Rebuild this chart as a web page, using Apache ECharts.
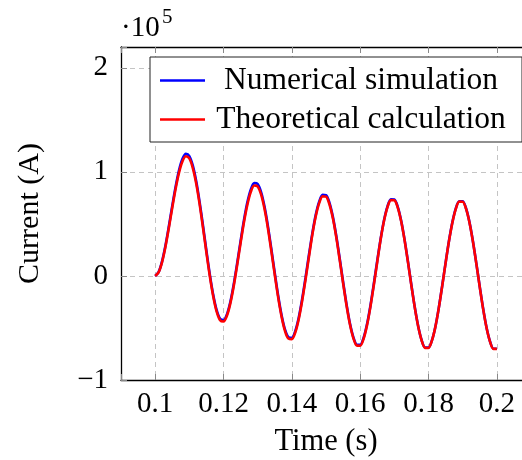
<!DOCTYPE html>
<html>
<head>
<meta charset="utf-8">
<script src="https://cdn.jsdelivr.net/npm/echarts@6/dist/echarts.min.js"></script>
<style>html,body{margin:0;padding:0;background:#fff}#c{width:522px;height:460px}</style>
</head>
<body>
<div id="c"></div>
<script>
// Time samples (s), 1 ms apart from 0.1 s to 0.2 s
const times = Array.from({length: 101}, (_, i) => +(0.1 + i * 0.001).toFixed(3));

// Current in units of 1e5 A
const numericalSimulation = [
  0.000, 0.037, 0.138, 0.290, 0.475, 0.673, 0.860, 1.017, 1.125, 1.173,
  1.152, 1.062, 0.912, 0.712, 0.482, 0.242, 0.013, -0.183, -0.329, -0.412,
  -0.425, -0.369, -0.250, -0.080, 0.122, 0.335, 0.538, 0.709, 0.831, 0.892,
  0.883, 0.806, 0.667, 0.479, 0.259, 0.029, -0.190, -0.377, -0.515, -0.589,
  -0.594, -0.530, -0.404, -0.227, -0.019, 0.201, 0.409, 0.587, 0.714, 0.780,
  0.777, 0.704, 0.570, 0.386, 0.170, -0.056, -0.271, -0.455, -0.588, -0.660,
  -0.662, -0.595, -0.465, -0.286, -0.075, 0.147, 0.358, 0.538, 0.668, 0.736,
  0.734, 0.664, 0.531, 0.349, 0.135, -0.090, -0.303, -0.485, -0.618, -0.688,
  -0.689, -0.620, -0.490, -0.309, -0.097, 0.126, 0.338, 0.518, 0.649, 0.718,
  0.717, 0.648, 0.516, 0.334, 0.121, -0.103, -0.316, -0.498, -0.629, -0.699,
  -0.699
];
const theoreticalCalculation = [
  0.000, 0.034, 0.131, 0.279, 0.461, 0.655, 0.840, 0.995, 1.102, 1.150,
  1.129, 1.039, 0.890, 0.692, 0.463, 0.225, -0.003, -0.197, -0.343, -0.425,
  -0.438, -0.383, -0.264, -0.096, 0.105, 0.316, 0.518, 0.687, 0.808, 0.869,
  0.860, 0.783, 0.645, 0.459, 0.240, 0.012, -0.206, -0.391, -0.529, -0.602,
  -0.607, -0.544, -0.418, -0.243, -0.036, 0.182, 0.396, 0.573, 0.699, 0.765,
  0.762, 0.689, 0.556, 0.373, 0.157, -0.068, -0.282, -0.465, -0.597, -0.669,
  -0.671, -0.604, -0.475, -0.297, -0.087, 0.134, 0.352, 0.532, 0.661, 0.729,
  0.727, 0.657, 0.525, 0.343, 0.130, -0.095, -0.307, -0.489, -0.621, -0.691,
  -0.692, -0.622, -0.492, -0.312, -0.100, 0.123, 0.335, 0.514, 0.645, 0.714,
  0.713, 0.644, 0.512, 0.331, 0.118, -0.106, -0.319, -0.500, -0.631, -0.701,
  -0.701
];
const seriesNames = ['Numerical simulation', 'Theoretical calculation'];
const xTickValues = [0.1, 0.12, 0.14, 0.16, 0.18, 0.2];
const yTickValues = [-1, 0, 1, 2];

const FONT = '"Liberation Serif", "Times New Roman", serif';
const gridLine = {show: true, lineStyle: {color: '#c4c4c4', type: [5, 4], width: 1}};
const X_MIN = 0.09, X_MAX = 0.21;

const chart = echarts.init(document.getElementById('c'), null, {renderer: 'canvas'});
chart.setOption({
  animation: false,
  backgroundColor: '#fff',
  grid: {left: 121, top: 47, width: 410, height: 333, containLabel: false, outerBoundsMode: 'none'},
  xAxis: [{
    type: 'value', min: X_MIN, max: X_MAX, splitNumber: 6,
    name: 'Time (s)', nameLocation: 'middle', nameGap: 46,
    nameTextStyle: {fontFamily: FONT, fontSize: 30.5, color: '#000'},
    axisLine: {show: true, onZero: false, lineStyle: {color: '#000', width: 1.3}},
    axisTick: {show: true, inside: true, length: 6, lineStyle: {color: '#888'}},
    axisLabel: {
      fontFamily: FONT, fontSize: 29, color: '#000', margin: 10,
      formatter: v => xTickValues.some(t => Math.abs(t - v) < 1e-9) ? String(+v.toFixed(2)) : ''
    },
    splitLine: gridLine
  }, {
    type: 'value', min: X_MIN, max: X_MAX, splitNumber: 6, position: 'top',
    axisLine: {show: true, onZero: false, lineStyle: {color: '#000', width: 1.3}},
    axisTick: {show: true, inside: true, length: 6, lineStyle: {color: '#888'}},
    axisLabel: {show: false}, splitLine: {show: false}
  }],
  yAxis: {
    type: 'value', min: -1, max: 2.2, interval: 1,
    name: 'Current (A)', nameLocation: 'middle', nameGap: 76,
    nameTextStyle: {fontFamily: FONT, fontSize: 30, color: '#000'},
    axisLine: {show: true, onZero: false, lineStyle: {color: '#000', width: 1.3}},
    axisTick: {show: true, inside: true, length: 6, lineStyle: {color: '#888'}},
    axisLabel: {
      fontFamily: FONT, fontSize: 29, color: '#000', margin: 13,
      formatter: v => yTickValues.includes(v) ? (v < 0 ? '\u2212' + Math.abs(v) : String(v)) : ''
    },
    splitLine: gridLine
  },
  legend: {
    data: seriesNames, orient: 'vertical', left: 150, top: 57,
    backgroundColor: '#fff', borderColor: '#222', borderWidth: 1,
    padding: [7, 10, 6, 10], itemGap: 6, itemWidth: 45, itemHeight: 2.5, icon: 'rect',
    formatter: name => '{c|' + name + '}',
    textStyle: {
      fontFamily: FONT, fontSize: 31.5, color: '#000', lineHeight: 33,
      rich: {c: {fontFamily: FONT, fontSize: 31.5, color: '#000', lineHeight: 33, width: 302, align: 'center'}}
    }
  },
  graphic: [
    {type: 'text', left: 121, top: 14, style: {text: '\u00b710', font: '29px ' + FONT, fill: '#000'}},
    {type: 'text', left: 162, top: 7, style: {text: '5', font: '21px ' + FONT, fill: '#000'}}
  ],
  series: [
    {name: seriesNames[0], type: 'line', data: times.map((t, i) => [t, numericalSimulation[i]]),
     showSymbol: false, symbol: 'none', smooth: 0.3, lineStyle: {color: '#0000ff', width: 2.6}, itemStyle: {color: '#0000ff'}, z: 3},
    {name: seriesNames[1], type: 'line', data: times.map((t, i) => [t, theoreticalCalculation[i]]),
     showSymbol: false, symbol: 'none', smooth: 0.3, lineStyle: {color: '#ff0000', width: 2.6}, itemStyle: {color: '#ff0000'}, z: 4}
  ]
});
</script>
</body>
</html>
